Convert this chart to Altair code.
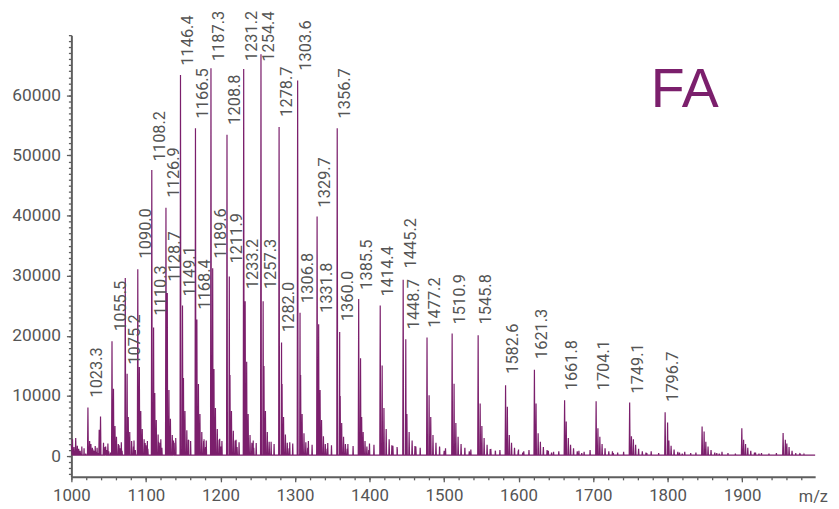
import altair as alt
import pandas as pd

# ---- charge-state clusters: main peak, secondary (adduct) peak, decaying tail ----
main_mz = [1005.8, 1022.2, 1039.1, 1054.5, 1072.3, 1089.1, 1107.9, 1126.9, 1146.4, 1166.5,
           1187.3, 1208.8, 1231.2, 1254.4, 1278.7, 1303.6, 1329.7, 1356.7, 1385.5, 1414.4,
           1445.2, 1477.2, 1510.9, 1545.8, 1582.6, 1621.3, 1661.8, 1704.1, 1749.1, 1796.7,
           1846.3, 1899.6, 1955.0]
main_h = [3000, 8100, 6600, 19100, 29600, 31070, 47560, 41310, 63390, 54510,
          64490, 53430, 64380, 66840, 54740, 62470, 39830, 54510, 26140, 25040,
          29310, 19730, 20390, 20110, 11770, 14350, 9300, 9140, 8930, 7280,
          4930, 4650, 3830]
sec_mz = [1008.0, 1024.5, 1037.3, 1056.5, 1074.8, 1091.2, 1110.3, 1128.7, 1149.1, 1168.4,
          1189.6, 1211.9, 1233.2, 1257.3, 1282.0, 1306.8, 1331.8, 1360.0, 1388.0, 1417.0,
          1448.7, 1480.0, 1513.5, 1548.5, 1585.0, 1623.5, 1664.0, 1706.5, 1751.5, 1800.0,
          1849.0, 1902.0, 1958.0]
sec_h = [1700, 2500, 4400, 11200, 13700, 14800, 21370, 27120, 25040, 22730,
         31230, 29850, 25750, 25750, 18900, 23840, 21910, 20650, 16280, 15060,
         19450, 10130, 12050, 8760, 8220, 8760, 5750, 4650, 3290, 5590,
         4110, 2730, 2730]
tail_h = [
    [1200, 900, 700, 500, 400], [2000, 1400, 900, 700, 500], [2200, 1500, 1000, 800, 600],
    [5000, 3200, 2000, 1300, 900], [6500, 4000, 2500, 1600, 1000], [7500, 4500, 2800, 1800, 1200],
    [10500, 6000, 3600, 2200, 1400], [11000, 6200, 3500, 2200, 1400], [13000, 7500, 4300, 2600, 1600],
    [12000, 7000, 4000, 2500, 1500], [14500, 8000, 4500, 2700, 1600], [13500, 7500, 4200, 2600, 1500],
    [15700, 7000, 3500, 2200, 1400], [15000, 7500, 4000, 2400, 1500], [12000, 6500, 3600, 2200, 1300],
    [13500, 7000, 3800, 2300, 1400], [11000, 6000, 3300, 2000, 1200], [10000, 5500, 3200, 2000, 1200],
    [6500, 4000, 2500, 1600, 1000], [8000, 4500, 2800, 1700, 1000], [7000, 4000, 2600, 1600, 1000],
    [6500, 3500, 2200, 1400, 900], [5500, 3200, 2000, 1300, 800], [5000, 3000, 1900, 1200, 800],
    [3500, 2200, 1400, 900, 600], [3800, 2400, 1500, 1000, 600], [3000, 1900, 1300, 800, 500],
    [3200, 2000, 1300, 800, 500], [2800, 1900, 1200, 800, 500], [2600, 1700, 1100, 700, 400],
    [2400, 1600, 1000, 600, 400], [2000, 1400, 900, 600, 400], [2100, 1500, 900, 500, 300],
]
tail_off_low = [4.0, 6.0, 8.5, 11.0, 13.5]
tail_off_high = [5.0, 8.0, 12.0, 17.0, 23.0]

# ---- small noise spikes between clusters ----
noise_mz = [1001.5, 1003.5, 1011, 1014, 1017, 1029, 1032, 1034.5, 1046, 1049, 1064, 1067,
            1081, 1084, 1099, 1102, 1117, 1120, 1137, 1140, 1157, 1160, 1178, 1181, 1199, 1202,
            1221, 1225, 1244, 1248, 1268, 1272, 1293, 1297, 1318, 1323, 1344, 1349, 1371, 1378,
            1400, 1406, 1430, 1437, 1461, 1468, 1494, 1502, 1528, 1536, 1562, 1569, 1575,
            1600, 1607, 1614, 1640, 1647, 1654, 1681, 1688, 1696, 1726, 1733, 1741,
            1771, 1778, 1788, 1816, 1823, 1831, 1838, 1866, 1873, 1881, 1891,
            1918, 1926, 1936, 1946, 1972, 1977, 1983]
noise_h = [2800, 1500, 900, 1600, 1300, 1100, 1700, 1400, 1600, 2100, 1800, 2300,
           2000, 2600, 2200, 2500, 2400, 2800, 2600, 3000, 2700, 2500, 2800, 2600, 2900, 2500,
           2700, 2300, 2600, 2200, 2400, 2000, 2300, 2100, 2500, 1900, 2200, 1800, 2000, 1700,
           2100, 1900, 1800, 1500, 1700, 1400, 1600, 1300, 1400, 1100, 1200, 900, 1000,
           1100, 800, 1000, 900, 700, 800, 900, 700, 1000, 800, 600, 700,
           600, 800, 500, 600, 700, 500, 600, 500, 700, 500, 400,
           600, 500, 400, 500, 400, 300, 300]
BASELINE = 150
START_LEVEL = 1800

# ---- peak annotations (label text, label anchor position in data units) ----
label_text = ["1023.3", "1055.5", "1075.2", "1090.0", "1108.2", "1110.3", "1126.9", "1128.7",
              "1146.4", "1149.1", "1166.5", "1168.4", "1187.3", "1189.6", "1208.8", "1211.9",
              "1231.2", "1233.2", "1254.4", "1257.3", "1278.7", "1282.0", "1303.6", "1306.8",
              "1329.7", "1331.8", "1356.7", "1360.0", "1385.5", "1414.4", "1445.2", "1448.7",
              "1477.2", "1510.9", "1545.8", "1582.6", "1621.3", "1661.8", "1704.1", "1749.1",
              "1796.7"]
label_mz = [float(t) for t in label_text]
label_pos = [9750, 20810, 15220, 32880, 49040, 23390, 43010, 29030,
             64940, 26570, 56160, 24380, 65700, 32880, 55120, 32060,
             65700, 27780, 65600, 27780, 56440, 20650, 64110, 25480,
             41360, 23840, 56160, 22460, 27670, 26570, 31230, 21090,
             21370, 21910, 21910, 13690, 16160, 10950, 10950, 10410,
             9040]

x_major = list(range(1000, 1901, 100))
x_minor = list(range(1000, 1999, 20))
y_major = list(range(0, 60001, 10000))
y_minor = list(range(-3000, 70001, 1000))

# ---- build the profile line from the spike lists ----
spikes = []
for i in range(len(main_mz)):
    spikes.append((main_mz[i], main_h[i], 0.6))
    spikes.append((sec_mz[i], sec_h[i], 0.5))
    offs = tail_off_low if main_mz[i] < 1400 else tail_off_high
    for o, h in zip(offs, tail_h[i]):
        spikes.append((main_mz[i] + o, h, 0.5))
for m, h in zip(noise_mz, noise_h):
    spikes.append((m, h, 0.4))

pts = [(1000.0, START_LEVEL), (1998.0, BASELINE)]
for m, h, w in spikes:
    pts.append((m - w, BASELINE))
    pts.append((m, h))
    pts.append((m + w, BASELINE))
pts.sort(key=lambda p: p[0])
spec_df = pd.DataFrame(pts, columns=["mz", "intensity"])

lab_df = pd.DataFrame({"mz": label_mz, "pos": label_pos, "text": label_text})
fa_df = pd.DataFrame({"mz": [1777.5], "pos": [58080], "text": ["FA"]})

PURPLE = "#7b1f6c"
GRAY = "#555555"
AXISGRAY = "#5e5e5e"
FONT = "Roboto"

x_scale = alt.Scale(domain=[1000, 1998], nice=False, zero=False)
y_scale = alt.Scale(domain=[-3450, 70000], nice=False, zero=False)

common = dict(grid=False, labelOverlap=False, labelFlush=False,
              tickColor=AXISGRAY, tickWidth=1.3)

x_axis_major = alt.Axis(
    values=x_major, format="d", domainColor=AXISGRAY, domainWidth=2, tickSize=5,
    labelFont=FONT, labelFontSize=17, labelColor=GRAY, labelPadding=6,
    title="m/z", titleX=734, titleY=25, titleAlign="left", titleBaseline="alphabetic",
    titleFont=FONT, titleFontSize=16.5, titleFontWeight="normal", titleColor=GRAY,
    **common,
)
y_axis_major = alt.Axis(
    values=y_major, format="d", domainColor=AXISGRAY, domainWidth=2, tickSize=5,
    labelFont=FONT, labelFontSize=17.5, labelColor=GRAY, labelPadding=6,
    title="", **common,
)
x_axis_minor = alt.Axis(values=x_minor, orient="bottom", labels=False, domain=False,
                        tickSize=3, title="", offset=0, **common)
y_axis_minor = alt.Axis(values=y_minor, orient="left", labels=False, domain=False,
                        tickSize=3, title="", offset=0, **common)

line = alt.Chart(spec_df).mark_line(color=PURPLE, strokeWidth=1.2).encode(
    x=alt.X("mz:Q", scale=x_scale, axis=x_axis_major),
    y=alt.Y("intensity:Q", scale=y_scale, axis=y_axis_major),
)

labels = alt.Chart(lab_df).mark_text(
    angle=270, align="left", baseline="top", font=FONT, fontSize=16.5, color=GRAY
).encode(
    x=alt.X("mz:Q", scale=x_scale, axis=x_axis_minor),
    y=alt.Y("pos:Q", scale=y_scale, axis=y_axis_minor),
    text="text:N",
)

fa = alt.Chart(fa_df).mark_text(
    align="left", baseline="alphabetic", font="Liberation Sans, Arial, sans-serif",
    fontSize=56, color=PURPLE
).encode(
    x=alt.X("mz:Q", scale=x_scale, axis=None),
    y=alt.Y("pos:Q", scale=y_scale, axis=None),
    text="text:N",
)

chart = alt.layer(line, labels, fa).resolve_axis(x="independent", y="independent").properties(
    width=751, height=446,
    autosize=alt.AutoSizeParams(type="none"),
    padding={"left": 64, "top": 25, "right": 16, "bottom": 28},
).configure_view(stroke=None)

chart.save("out.html", embed_options={"renderer": "svg", "actions": False})
